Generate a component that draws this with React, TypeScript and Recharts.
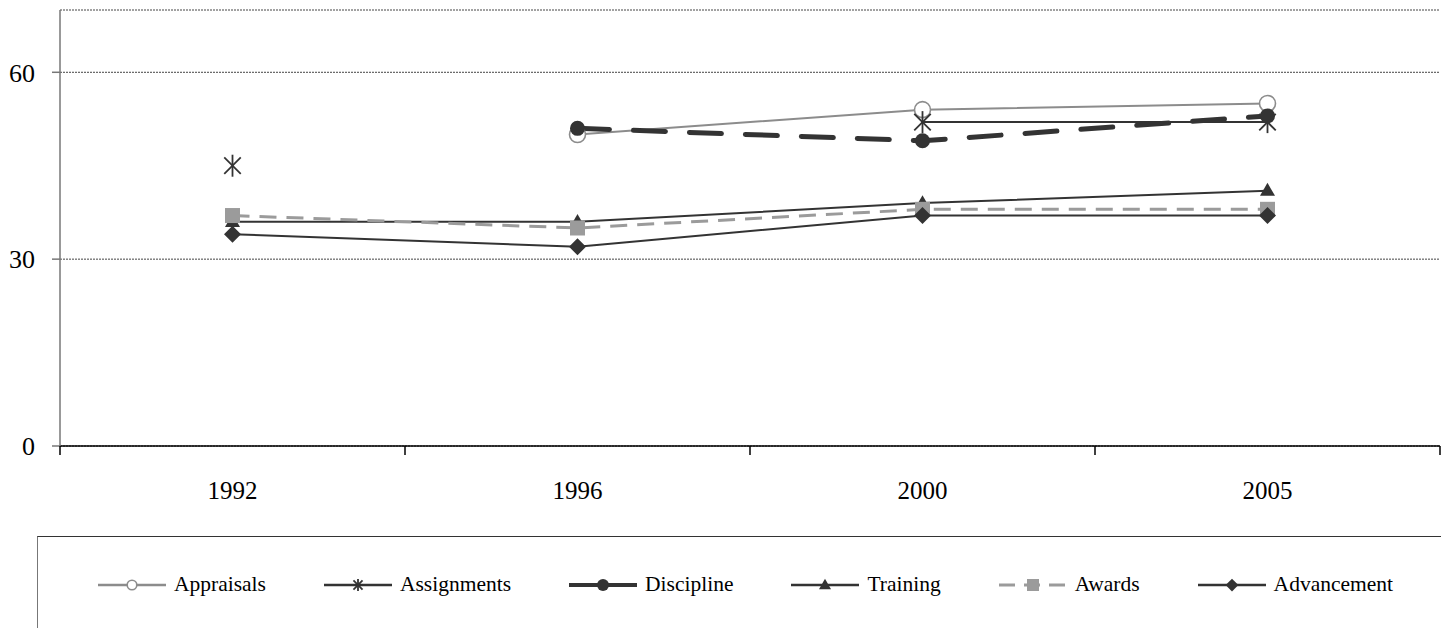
import { LineChart, Line, XAxis, YAxis, CartesianGrid } from 'recharts'

const years = ['1992', '1996', '2000', '2005']
const appraisals = [null, 50, 54, 55]
const assignments = [45, null, 52, 52]
const discipline = [null, 51, 49, 53]
const training = [36, 36, 39, 41]
const awards = [37, 35, 38, 38]
const advancement = [34, 32, 37, 37]
const yTicks = [0, 30, 60]
// category boundaries get tick marks, category centres get the year labels
const xTicks = [0, 0.5, 1, 1.5, 2, 2.5, 3, 3.5, 4]

const data = years.map((year, i) => ({
  pos: i + 0.5,
  year,
  appraisals: appraisals[i],
  assignments: assignments[i],
  discipline: discipline[i],
  training: training[i],
  awards: awards[i],
  advancement: advancement[i],
}))

const DARK = '#333333'
const MID = '#8c8c8c'
const LIGHT = '#9b9b9b'
const FONT = '"Liberation Serif", "Times New Roman", serif'

type Mark = 'circle' | 'star' | 'dot' | 'triangle' | 'square' | 'diamond'

function Marker({ kind, cx, cy, color, s = 1 }: { kind: Mark; cx: number; cy: number; color: string; s?: number }) {
  switch (kind) {
    case 'circle':
      return <circle cx={cx} cy={cy} r={8 * s} fill="#fff" stroke={color} strokeWidth={1.6} />
    case 'star': {
      const r = 11 * s
      const d = r * 0.75
      return (
        <g stroke={color} strokeWidth={1.8}>
          <line x1={cx} y1={cy - r} x2={cx} y2={cy + r} />
          <line x1={cx - d} y1={cy - d} x2={cx + d} y2={cy + d} />
          <line x1={cx - d} y1={cy + d} x2={cx + d} y2={cy - d} />
        </g>
      )
    }
    case 'dot':
      return <circle cx={cx} cy={cy} r={7.5 * s} fill={color} />
    case 'triangle': {
      const w = 7.5 * s, h = 13 * s
      return <polygon points={`${cx},${cy - h * 0.6} ${cx + w},${cy + h * 0.4} ${cx - w},${cy + h * 0.4}`} fill={color} />
    }
    case 'square': {
      const a = 7.5 * s
      return <rect x={cx - a} y={cy - a} width={a * 2} height={a * 2} fill={color} />
    }
    case 'diamond': {
      const a = 8.5 * s
      return <polygon points={`${cx},${cy - a} ${cx + a},${cy} ${cx},${cy + a} ${cx - a},${cy}`} fill={color} />
    }
  }
  return null
}

const dotOf = (kind: Mark, color: string) => (p: any) => {
  if (p.value == null || p.cx == null || p.cy == null) return <g key={p.key ?? p.index} />
  return (
    <g key={p.key ?? p.index}>
      <Marker kind={kind} cx={p.cx} cy={p.cy} color={color} />
    </g>
  )
}

function XTick(props: any) {
  const { x, y, payload } = props
  const v = payload.value as number
  if (Number.isInteger(v)) {
    return <line x1={x} y1={y} x2={x} y2={y + 9} stroke="#000" strokeWidth={1.5} />
  }
  return (
    <text x={x} y={y + 53} textAnchor="middle" fill="#000" fontSize={25} fontFamily={FONT}>
      {years[Math.floor(v)]}
    </text>
  )
}

const series: { key: string; name: string; color: string; width: number; dash?: string; cap?: 'round' | 'butt'; mark: Mark; legendScale: number; legendDash?: string; legendWidth: number }[] = [
  { key: 'appraisals', name: 'Appraisals', color: MID, width: 2, mark: 'circle', legendScale: 0.6, legendWidth: 2.5 },
  { key: 'assignments', name: 'Assignments', color: DARK, width: 2, mark: 'star', legendScale: 0.55, legendWidth: 2.5 },
  { key: 'discipline', name: 'Discipline', color: DARK, width: 5, dash: '32 24', cap: 'round', mark: 'dot', legendScale: 0.8, legendWidth: 4 },
  { key: 'training', name: 'Training', color: DARK, width: 2, mark: 'triangle', legendScale: 0.8, legendWidth: 2.5 },
  { key: 'awards', name: 'Awards', color: LIGHT, width: 3, dash: '17 10', mark: 'square', legendScale: 0.8, legendDash: '16 9', legendWidth: 3 },
  { key: 'advancement', name: 'Advancement', color: DARK, width: 2, mark: 'diamond', legendScale: 0.75, legendWidth: 2.5 },
]

function LegendBox() {
  return (
    <div
      style={{
        position: 'absolute', left: 37, top: 536, width: 1500, height: 120,
        borderTop: '1.5px solid #333', borderLeft: '1.5px solid #777',
        boxSizing: 'border-box', display: 'flex', alignItems: 'center',
        paddingLeft: 60, paddingBottom: 24, fontFamily: FONT, fontSize: 21.5, color: '#000',
      }}
    >
      {series.map(s => (
        <div key={s.key} style={{ display: 'flex', alignItems: 'center', marginRight: 58 }}>
          <svg width={68} height={20} style={{ marginRight: 8 }}>
            <line
              x1={0} y1={10} x2={68} y2={10} stroke={s.color}
              strokeWidth={s.legendWidth} strokeDasharray={s.legendDash}
            />
            <Marker kind={s.mark} cx={34} cy={10} color={s.color} s={s.legendScale} />
          </svg>
          <span>{s.name}</span>
        </div>
      ))}
    </div>
  )
}

export default function App() {
  return (
    <div style={{ position: 'relative', width: 1441, height: 628, overflow: 'hidden', background: '#fff', fontFamily: FONT }}>
      <style>{'body{margin:0}'}</style>
      <LineChart width={1441} height={628} data={data} margin={{ top: 10, right: 1, bottom: 0, left: 0 }}>
        <CartesianGrid horizontal vertical={false} stroke="#444" strokeDasharray="2 1" />
        <XAxis
          type="number" dataKey="pos" domain={[0, 4]} ticks={xTicks} interval={0}
          tick={<XTick />} tickLine={false} tickSize={0} tickMargin={0} height={182}
          stroke="#000" strokeWidth={1.5}
        />
        <YAxis
          domain={[0, 70]} ticks={yTicks} width={60} tickSize={8} tickMargin={17}
          stroke="#777" strokeWidth={1.5}
          tick={{ fill: '#000', fontSize: 26, fontFamily: FONT }}
        />
        {series.map(s => (
          <Line
            key={s.key} type="linear" dataKey={s.key} name={s.name}
            stroke={s.color} strokeWidth={s.width} strokeDasharray={s.dash} strokeLinecap={s.cap ?? 'butt'}
            dot={dotOf(s.mark, s.color)} activeDot={false} isAnimationActive={false} connectNulls={false}
          />
        ))}
      </LineChart>
      <LegendBox />
    </div>
  )
}
